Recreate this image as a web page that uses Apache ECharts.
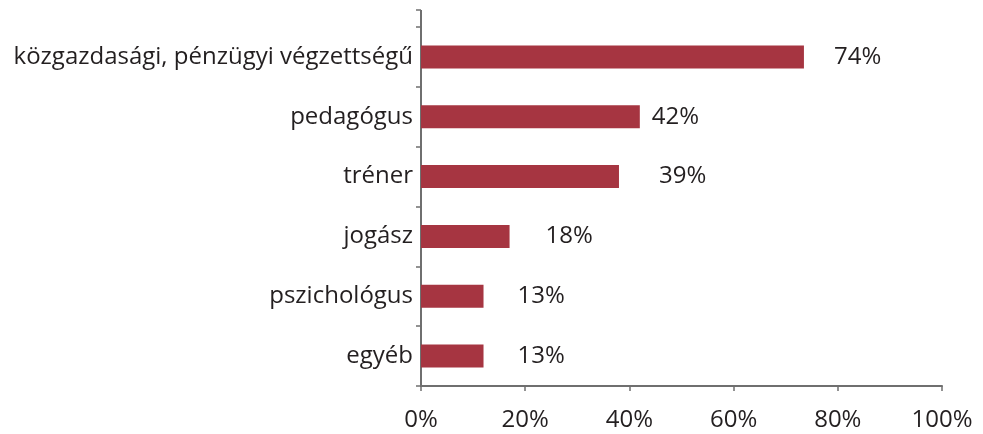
<!DOCTYPE html>
<html>
<head>
<meta charset="utf-8">
<script src="https://cdn.jsdelivr.net/npm/echarts@6/dist/echarts.min.js"></script>
<style>
    html, body { margin: 0; padding: 0; background: #fff; }
    #chart { width: 983px; height: 434px; }
</style>
</head>
<body>
<div id="chart"></div>
<script>
    // kategóriák felülről lefelé
    var categories = ['közgazdasági, pénzügyi végzettségű', 'pedagógus', 'tréner', 'jogász', 'pszichológus', 'egyéb'];
    // oszlophosszak (%)
    var shares = [73.5, 42, 38, 17, 12, 12];
    // kiírt címkék
    var shareLabels = ['74%', '42%', '39%', '18%', '13%', '13%'];
    var xTicks = [0, 20, 40, 60, 80, 100];

    // címkék távolsága az oszlop végétől (px)
    var labelGap = [30, 12, 40, 36, 34, 34];

    var gridLeft = 421, gridTop = 27, gridBottom = 48;
    var axisColor = '#6f6f6f';
    var textColor = '#231f20';
    var font = 'Open Sans';

    var myChart = echarts.init(document.getElementById('chart'));
    var option = {
        animation: false,
        grid: {
            left: gridLeft,
            right: 41,
            top: gridTop,
            bottom: gridBottom
        },
        xAxis: {
            type: 'value',
            min: xTicks[0],
            max: xTicks[xTicks.length - 1],
            interval: xTicks[1] - xTicks[0],
            splitLine: { show: false },
            axisLine: { show: true, lineStyle: { color: axisColor, width: 2 } },
            axisTick: { show: true, length: 5, lineStyle: { color: axisColor, width: 1.5 } },
            axisLabel: {
                margin: 22,
                color: textColor,
                fontFamily: font,
                fontSize: 24
            ,
                formatter: '{value}%'
            }
        },
        yAxis: {
            type: 'category',
            inverse: true,
            data: categories,
            axisLine: { show: true, lineStyle: { color: axisColor, width: 2 } },
            axisTick: { show: true, length: 5, lineStyle: { color: axisColor, width: 1.5 } },
            axisLabel: {
                margin: 8,
                color: textColor,
                fontFamily: font,
                fontSize: 24
            }
        },
        series: [{//oszlopok
            type: 'bar',
            barWidth: 23,
            data: shares.map(function (v, i) {
                return {
                    value: v,
                    label: {
                        distance: labelGap[i],
                        formatter: shareLabels[i]
                    }
                };
            }),
            itemStyle: { color: '#a63541' },
            label: {
                show: true,
                position: 'right',
                color: textColor,
                fontFamily: font,
                fontSize: 24
            }
        }],
        graphic: [{//tengely felső toldása
            type: 'line',
            shape: { x1: gridLeft, y1: 10, x2: gridLeft, y2: gridTop },
            style: { stroke: axisColor, lineWidth: 2 }
        }, {
            type: 'line',
            shape: { x1: gridLeft - 5, y1: 10, x2: gridLeft, y2: 10 },
            style: { stroke: axisColor, lineWidth: 1.5 }
        }]
    };
    myChart.setOption(option);
</script>
</body>
</html>
